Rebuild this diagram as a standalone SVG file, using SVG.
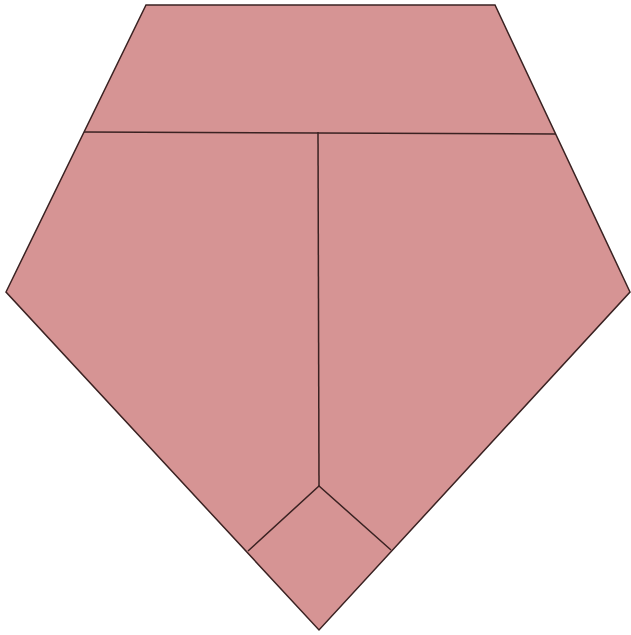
<svg xmlns="http://www.w3.org/2000/svg" width="631" height="635" viewBox="0 0 631 635">
<style>
.p{fill:#d69494;stroke:#3a2222;stroke-width:1.5;stroke-linejoin:miter}
.l{fill:none;stroke:#3a2222;stroke-width:1.5}
</style>
<rect width="631" height="635" fill="#ffffff"/>
<g id="shape">
<polygon class="p" points="146,5 495,5 630,292 319,630 6,292"/>
</g>
<g id="lines">
<line class="l" x1="84" y1="132" x2="556" y2="134"/>
<line class="l" x1="318" y1="132" x2="319" y2="486"/>
<polyline class="l" points="248,551 319,486 391,550"/>
</g>
</svg>
